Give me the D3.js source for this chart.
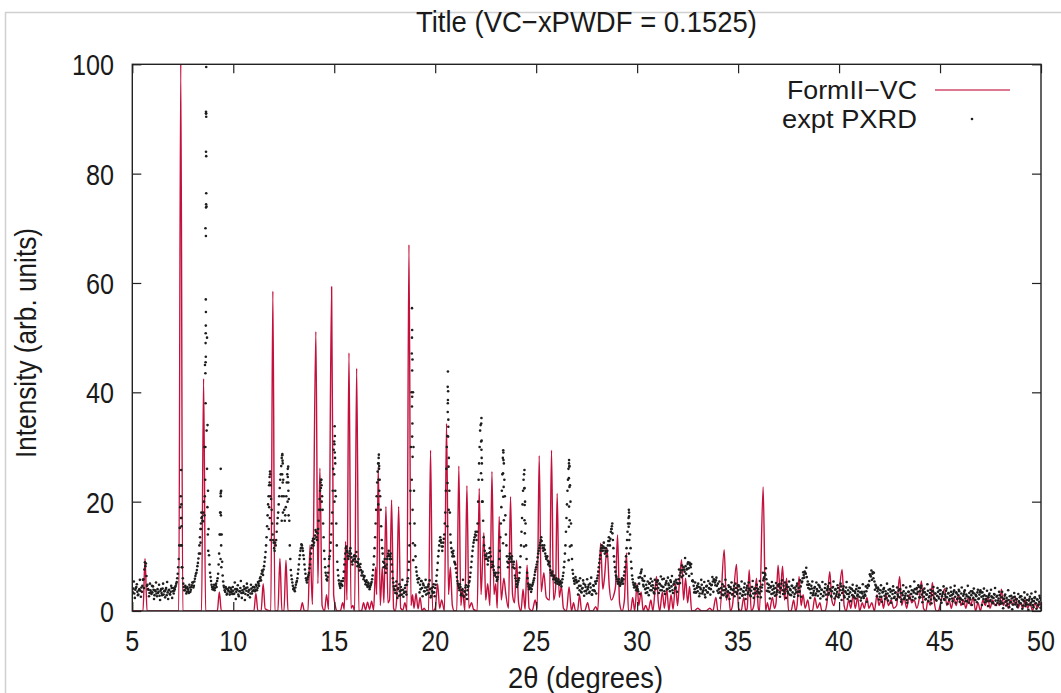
<!DOCTYPE html>
<html><head><meta charset="utf-8">
<script src="https://cdn.jsdelivr.net/npm/d3@7"></script>
<style>
body{margin:0;background:#fff}
svg{display:block}
text{font-family:"Liberation Sans",Arial,Helvetica,sans-serif;fill:#1a1a1a}
</style>
</head><body>
<svg id="c" width="1061" height="693"></svg>
<script>
// ---------- data ----------
const xTicks = [5,10,15,20,25,30,35,40,45,50];
const yTicks = [0,20,40,60,80,100];
const titleText = "Title (VC\u2212xPWDF = 0.1525)";
const xLabel = "2\u03b8 (degrees)";
const yLabel = "Intensity (arb. units)";
const seriesNames = ["FormII\u2212VC","expt PXRD"];

// simulated pattern FormII-VC: [2theta, intensity] vertices
const simPattern = [
[5.0,0],[5.53,0],[5.63,9.6],[5.73,0],
[7.30,0],[7.40,100],[7.50,0],
[8.43,0],[8.53,42.5],[8.63,0],
[9.21,0],[9.31,3.5],[9.41,0],
[11.02,0],[11.12,3.2],[11.22,0],
[11.38,0],[11.48,5.0],[11.58,0.4],
[11.86,0],[11.96,58.5],[12.06,0],
[12.21,0],[12.31,9.6],[12.41,0],
[12.51,0],[12.61,9.3],[12.71,0],
[13.32,0],[13.42,1.5],[13.52,0],
[13.70,0],[13.80,12.1],[13.92,1.2],
[14.09,51.1],[14.19,5.0],[14.29,26.1],[14.40,1.0],[14.52,0],[14.62,3.0],[14.72,0.3],
[14.87,59.3],[14.97,3.0],[15.05,1.0],[15.15,0],[15.30,0],[15.42,1.5],[15.50,0.3],
[15.56,12.7],[15.63,2.0],[15.73,47.2],[15.83,0.5],[15.92,1.0],[16.01,0],
[16.11,44.4],[16.22,0],[16.35,0],[16.45,1.5],[16.55,0.2],[16.65,1.6],[16.75,0.3],[16.85,1.8],[16.95,0.2],
[17.05,8.0],[17.10,3.0],[17.18,26.4],[17.28,1.0],[17.38,8.0],[17.46,1.5],
[17.56,19.1],[17.66,1.5],[17.74,2.0],[17.84,20.3],[17.94,0.5],[18.02,0],[18.09,2.0],
[18.19,19.1],[18.29,0.5],[18.40,0.2],[18.50,1.5],[18.60,0],
[18.70,67.0],[18.80,1.0],[18.88,3.0],[18.95,0.5],[19.05,3.2],[19.15,0.4],[19.25,2.5],[19.35,0],[19.45,0.5],[19.55,0],[19.67,0],
[19.77,29.4],[19.87,0],[20.00,0.5],[20.12,5.0],[20.22,0.5],[20.32,2.0],[20.46,0],
[20.56,34.3],[20.66,3.0],[20.75,8.0],[20.85,1.0],[20.95,0],[21.07,0],
[21.17,26.5],[21.27,1.0],[21.35,4.0],[21.47,0],
[21.57,22.9],[21.67,0.5],[21.80,1.5],[21.90,0.3],[22.08,0],
[22.18,22.4],[22.27,3.0],[22.41,14.3],[22.50,2.0],[22.60,5.0],[22.71,1.0],
[22.81,25.5],[22.91,3.0],[23.00,5.0],[23.07,0.5],
[23.17,17.3],[23.27,2.0],[23.40,6.0],[23.50,3.0],[23.63,0.5],
[23.73,20.9],[23.83,3.0],[23.93,1.5],[24.03,9.3],[24.13,1.5],[24.25,0],[24.35,4.0],[24.45,0.3],
[24.55,8.4],[24.65,0.5],[24.80,0],[24.95,2.0],[25.05,0.5],
[25.15,28.4],[25.25,3.5],[25.38,7.0],[25.50,2.5],[25.66,2.0],
[25.76,29.4],[25.86,2.0],[25.96,4.0],
[26.04,21.5],[26.14,2.5],[26.25,4.5],[26.35,0.5],[26.50,0],
[26.63,4.4],[26.75,0],[26.85,1.5],[26.95,0],[27.05,0],[27.15,3.0],[27.25,0],[27.40,0],[27.55,1.5],[27.65,0],[27.80,0],[27.95,0.8],[28.05,0],
[28.19,12.4],[28.30,4.0],[28.38,6.0],
[28.51,11.5],[28.62,4.5],[28.72,2.0],[28.85,3.0],[28.93,4.5],
[29.03,13.9],[29.13,1.5],[29.25,0],[29.37,2.0],
[29.47,10.6],[29.57,0],[29.68,0],[29.78,2.5],[29.88,0],[30.00,5.0],[30.08,1.0],[30.20,3.5],[30.30,0],[30.42,1.0],[30.55,0],[30.68,2.0],[30.78,0],
[30.96,6.3],[31.05,1.5],[31.12,0],[31.25,3.5],[31.35,0.5],[31.47,4.0],[31.57,0],[31.68,3.0],[31.78,0.3],[31.90,5.0],[32.00,1.0],[32.08,4.5],
[32.20,9.4],[32.30,2.0],[32.40,6.0],[32.50,1.5],[32.60,4.5],[32.70,0],[32.82,0],[33.00,0.5],[33.20,0],[33.40,0],[33.60,0.5],[33.75,0],[33.90,2.5],[34.00,0],[34.10,0],
[34.31,11.2],[34.42,2.0],[34.52,3.5],[34.62,0],[34.72,1.0],
[34.92,8.5],[35.02,0.5],[35.15,0],[35.28,2.5],[35.38,0],[35.45,0.5],
[35.55,7.5],[35.65,0],[35.78,1.0],
[35.91,6.0],[36.00,0.5],[36.06,0],
[36.24,22.7],[36.36,0],[36.45,1.5],[36.55,0],[36.70,2.5],[36.80,0.5],[36.88,1.5],
[36.98,8.4],[37.09,3.0],[37.20,8.2],[37.30,2.0],[37.40,6.0],[37.50,0],[37.62,0],[37.75,2.0],[37.85,0],[37.92,1.0],
[38.02,6.3],[38.12,1.0],[38.22,3.0],[38.32,0.5],[38.45,2.0],[38.55,0],[38.68,0],[38.80,2.5],[38.92,0.5],[39.05,1.5],[39.15,0],[39.30,0],[39.40,1.5],
[39.54,7.2],[39.64,2.0],[39.75,1.0],[39.85,3.0],[39.95,2.5],
[40.15,7.6],[40.25,1.0],[40.35,0],[40.48,2.0],[40.58,0.5],[40.70,3.0],[40.80,0.5],[40.92,2.5],[41.02,0],[41.15,1.5],[41.25,0.5],[41.38,2.5],[41.48,0.5],[41.62,1.5],[41.75,0],[41.88,3.0],[41.98,1.0],[42.10,2.5],[42.20,0.5],[42.32,3.0],[42.45,1.0],[42.58,2.0],[42.70,0.5],[42.85,1.0],
[43.00,6.3],[43.10,1.0],[43.22,2.5],[43.35,0.5],[43.48,3.0],[43.60,1.5],[43.72,2.0],[43.85,0.5],[43.98,2.5],
[44.08,5.5],[44.18,0.5],[44.30,0],[44.40,2.0],[44.52,1.0],
[44.62,5.2],[44.72,1.5],[44.82,0],[44.92,0],[45.00,1.0],
[45.23,4.1],[45.33,1.0],[45.45,2.0],[45.56,0.5],[45.68,2.5],[45.80,1.0],[45.92,3.0],[46.04,1.0],[46.16,2.0],[46.28,0.5],[46.40,2.5],[46.52,1.0],[46.64,2.5],[46.76,0],[46.88,1.5],[47.00,0],[47.12,2.0],[47.24,1.0],[47.36,2.5],[47.48,0.5],[47.60,2.0],[47.72,1.0],[47.85,1.5],[47.94,1.0],
[48.04,4.0],[48.14,1.0],[48.26,2.0],[48.38,0.5],[48.50,2.0],[48.62,1.0],[48.74,2.5],[48.86,0.5],[48.98,1.5],[49.10,0.5],[49.22,2.0],[49.34,0.5],[49.46,1.5],[49.58,0],[49.70,1.5],[49.82,0.5],[49.94,1.5],[50.0,1.0]
];

// experimental PXRD, read every 0.05 deg from 5.000 deg
const exptStart = 5.0, exptStep = 0.05;
const exptY = [
3.6,4.1,3.2,3.9,4.4,3.5,3.0,4.0,3.7,4.3,4.6,5.8,7.6,8.2,6.4,4.8,3.9,3.3,3.8,3.1,
3.4,3.9,2.9,3.6,3.2,4.0,3.5,2.8,3.7,3.3,4.1,3.0,3.6,3.9,2.9,3.4,3.8,3.1,3.5,4.2,
3.6,3.2,4.0,4.6,5.3,6.8,9.5,15.2,21.0,12.0,6.0,4.4,3.8,4.2,3.5,4.0,3.3,4.3,3.9,4.7,
5.2,4.6,5.9,6.8,7.5,8.8,10.5,13.5,16.0,17.2,16.4,20.0,45.0,91.0,50.0,22.0,10.2,7.0,5.5,4.4,
4.0,4.8,4.2,5.0,5.5,6.8,10.5,18.0,22.0,9.0,5.4,4.3,3.5,4.1,3.2,3.8,4.3,3.4,3.9,3.1,
3.7,3.2,4.0,3.5,3.9,3.0,3.6,4.2,3.3,3.8,3.4,4.0,3.1,3.7,4.3,3.5,3.9,3.2,4.1,3.6,
3.8,4.3,3.9,4.6,4.2,5.0,5.5,6.2,6.8,7.2,7.6,9.0,10.8,13.5,17.5,21.0,24.5,23.0,18.5,14.0,
12.5,11.0,12.0,14.5,17.0,19.5,22.5,25.0,28.0,27.0,21.0,16.5,19.0,23.5,26.0,20.5,12.0,7.5,5.8,4.6,
4.2,3.6,4.8,5.5,6.8,8.5,10.2,11.5,12.0,11.0,9.5,7.6,6.0,5.2,6.2,7.0,8.5,10.5,12.0,13.2,
12.5,13.8,14.5,13.0,15.0,18.5,22.0,24.0,21.0,16.0,11.0,8.0,6.5,5.6,7.0,9.5,11.0,14.0,18.0,26.0,
31.0,27.0,16.0,9.0,6.5,5.0,4.2,5.5,4.6,6.0,8.5,10.5,11.8,10.8,9.5,10.5,11.5,9.8,8.5,9.4,
10.2,9.0,10.8,8.2,9.5,7.4,8.6,6.5,7.2,5.8,6.4,4.9,5.6,4.4,5.0,4.0,4.7,5.3,6.5,8.5,
11.5,16.0,21.0,25.5,28.0,24.0,18.5,13.0,10.5,8.0,9.5,7.0,8.5,10.0,11.0,9.5,10.5,8.5,6.0,4.5,
3.8,4.6,3.2,4.0,2.8,3.6,4.4,3.0,3.9,3.3,4.2,3.5,4.8,6.0,9.0,16.0,30.0,50.0,40.0,22.0,
12.0,8.0,6.5,5.2,6.0,4.8,5.5,4.2,5.0,3.6,4.3,3.0,3.8,4.5,3.3,4.0,2.8,3.6,4.4,3.4,
4.2,5.5,7.5,10.0,12.0,13.5,12.5,11.0,12.5,14.0,18.0,26.0,32.0,35.0,22.0,14.0,11.5,10.0,11.0,9.0,
8.5,7.0,5.5,4.6,3.8,4.4,3.2,4.0,2.8,3.6,4.3,3.0,3.8,4.6,5.5,7.0,9.0,11.0,12.5,13.5,
14.5,13.0,16.0,24.0,30.0,34.0,28.0,20.0,13.5,11.0,9.5,10.5,8.5,9.8,11.5,10.0,8.0,9.0,7.5,6.5,
7.0,5.5,6.2,8.0,11.0,16.0,22.0,28.0,27.0,21.0,14.0,10.0,8.0,9.5,10.5,9.0,10.0,8.0,9.0,6.5,
5.5,4.4,5.2,6.0,8.0,12.0,17.0,22.0,25.0,20.0,12.0,7.0,5.0,4.0,4.8,3.5,4.6,5.2,6.0,7.2,
8.0,9.0,10.5,11.5,12.5,13.5,12.0,11.0,12.0,10.5,9.5,10.0,8.5,9.0,7.5,6.5,7.2,5.8,6.5,5.2,
6.0,5.0,5.8,4.8,5.5,4.5,5.8,7.0,9.0,12.0,17.0,22.0,26.0,26.5,20.0,12.0,7.5,6.0,5.0,6.2,
5.2,4.2,5.5,3.8,4.6,3.4,4.2,5.0,3.6,4.4,3.2,4.0,4.8,3.5,4.3,3.0,3.8,4.6,3.6,5.0,
5.5,6.5,8.0,9.5,11.0,12.0,11.0,12.5,10.5,11.5,10.0,12.0,13.5,12.0,14.5,15.5,13.0,10.0,8.0,6.5,
5.8,5.0,5.8,4.6,5.2,6.0,5.0,6.5,8.0,10.0,13.0,16.0,18.0,14.0,9.0,6.5,5.2,4.3,5.0,3.8,
4.5,3.6,5.0,6.2,7.2,6.0,4.8,5.5,4.0,4.8,3.4,4.2,5.0,3.8,4.6,5.4,4.2,3.2,4.0,4.8,
5.5,4.2,5.0,3.8,4.6,5.8,4.4,3.6,4.8,5.5,4.0,5.0,4.2,5.6,4.5,3.8,4.8,5.4,4.3,5.2,
5.0,5.8,6.5,7.0,6.2,7.5,8.0,7.2,8.2,7.6,8.6,7.8,8.8,8.0,6.8,5.6,4.6,4.0,3.4,4.2,
3.6,4.4,3.2,4.0,4.8,3.5,4.2,3.0,3.8,4.6,3.4,4.2,5.0,4.0,4.8,5.4,5.8,5.2,5.6,4.6,
5.0,4.0,3.4,4.2,3.0,3.8,4.5,3.2,4.0,2.8,3.6,4.4,3.3,4.0,3.0,3.8,4.6,3.5,4.2,3.1,
3.8,4.5,3.2,4.0,2.8,3.6,4.3,3.0,3.8,4.6,3.4,4.1,2.9,3.7,4.4,3.2,4.0,3.3,4.2,3.6,
4.0,3.2,4.4,3.6,4.8,5.6,6.2,6.6,5.8,5.0,4.2,3.5,4.3,3.1,3.9,4.6,3.4,4.2,3.0,3.8,
4.5,3.4,4.2,5.0,3.8,4.6,3.2,4.0,4.8,3.6,4.4,3.0,3.8,4.6,3.4,4.2,3.1,3.9,4.6,3.5,
4.2,3.6,4.5,5.2,6.0,6.6,7.2,6.8,6.2,5.4,4.8,4.0,3.3,4.1,2.9,3.7,4.4,3.2,4.0,2.8,
3.6,4.3,3.1,3.9,2.7,3.5,4.2,3.0,3.8,4.5,3.3,4.0,2.8,3.6,4.4,3.2,3.9,2.7,3.5,4.2,
3.0,3.8,4.5,3.3,4.0,2.8,3.6,4.3,3.1,3.8,2.6,3.4,4.1,2.9,3.7,2.5,3.3,4.0,2.8,3.6,
2.6,3.4,2.4,3.2,2.7,3.5,2.8,3.6,4.2,4.8,5.5,6.5,7.4,6.8,6.0,5.4,4.8,4.2,3.6,4.0,
3.2,3.8,2.6,3.4,4.0,2.8,3.6,2.4,3.2,3.9,2.7,3.5,2.3,3.1,3.8,2.6,3.4,2.2,3.0,3.7,
2.5,3.3,2.1,2.9,3.6,2.4,3.2,2.0,2.8,3.5,2.3,3.1,3.8,2.6,3.4,4.0,3.2,4.2,3.5,4.4,
3.6,4.2,3.0,3.8,2.6,3.4,2.2,3.0,3.7,2.5,3.3,2.1,2.9,3.6,2.4,3.2,2.0,2.8,3.5,2.3,
3.1,2.0,2.7,3.4,2.2,3.0,3.7,2.5,3.2,2.0,2.8,3.5,2.3,3.1,3.8,2.6,3.4,2.2,2.9,3.6,
2.4,3.2,2.0,2.8,3.5,2.3,3.0,1.8,2.6,3.3,2.1,2.9,3.6,2.4,3.2,2.0,2.7,3.4,2.2,3.0,
3.8,2.6,3.4,2.2,2.9,2.0,2.7,1.8,2.5,3.2,2.0,2.7,1.6,2.4,3.0,1.9,2.6,1.5,2.3,2.9,
1.8,2.5,1.4,2.2,2.8,1.7,2.4,1.3,2.0,2.7,1.6,2.3,1.2,1.9,2.6,1.5,2.2,1.1,1.8,2.5,
1.4,2.1,1.0,1.8,2.4,1.3,2.0,1.2,1.9,2.6,1.5,2.2,1.1,1.8,2.5,1.4,2.1,1.0,1.7,2.4,
2.0
];

// experimental PXRD, in-between readings every 0.05 deg from 5.025 deg
const expt2Start = 5.025, expt2Step = 0.05;
const exptY2 = [
3.3,5.4,2.4,4.2,4.9,2.9,3.8,5.7,2.6,3.5,5.7,4.2,8.9,8.7,4.6,4.0,2.7,5.0,3.4,4.6,
4.5,2.2,3.8,5.2,2.7,3.3,4.8,2.0,4.0,2.9,5.0,3.6,2.5,4.2,5.3,2.2,3.9,3.0,4.6,2.4,
4.2,3.7,4.4,5.0,6.0,8.0,12.0,19.0,17.0,8.0,5.0,3.8,4.6,3.2,4.4,3.6,4.8,3.5,4.4,5.2,
4.3,5.4,6.4,7.0,8.2,9.6,12.0,15.0,17.0,16.5,18.0,30.0,70.0,74.0,34.0,15.0,8.5,6.2,4.8,4.0,
4.4,3.8,4.7,4.4,6.0,8.5,14.0,21.5,14.0,6.5,4.6,3.8,4.4,3.0,4.0,3.6,3.0,4.2,3.5,4.4,
3.1,5.2,2.2,4.0,4.7,2.7,3.6,5.5,2.4,3.3,4.5,2.0,4.2,5.0,2.9,3.8,2.5,4.8,3.2,4.4,
4.4,3.6,4.8,3.8,5.3,4.6,6.0,5.6,7.4,6.6,8.2,9.8,12.0,15.5,19.5,23.0,25.0,20.5,16.0,13.0,
11.5,12.5,13.0,16.0,18.0,21.0,24.0,26.5,28.5,24.0,18.5,17.5,21.0,25.0,23.5,16.5,9.5,6.5,5.2,4.0,
3.9,4.3,5.2,6.0,7.6,9.5,11.0,12.2,11.5,10.2,8.5,6.8,5.6,5.8,6.6,7.8,9.5,11.5,12.8,12.0,
13.2,14.8,13.5,14.2,16.5,20.5,23.5,23.0,18.5,13.5,9.5,7.0,5.8,6.2,8.2,10.0,12.5,16.0,22.0,29.5,
29.0,21.0,12.0,7.5,5.6,4.6,5.0,4.8,5.5,7.2,9.5,11.5,11.0,10.0,10.0,11.0,10.5,9.0,9.2,10.0,
9.5,10.0,9.0,8.8,8.4,8.0,7.5,7.0,6.5,6.2,5.5,5.3,4.7,5.2,4.5,4.4,5.0,5.8,7.5,10.0,
13.5,18.5,23.5,27.0,26.5,21.0,15.5,11.5,9.0,8.8,8.2,7.8,9.5,10.5,10.2,10.0,9.5,7.2,5.2,4.0,
3.3,5.4,2.4,4.2,4.9,2.9,3.8,5.7,2.6,3.5,4.7,3.0,5.4,7.5,12.0,22.0,40.0,46.0,30.0,16.0,
10.0,7.2,5.8,5.9,3.4,4.0,5.5,2.7,4.7,3.6,5.7,4.3,3.2,4.9,5.6,2.5,4.2,3.3,4.9,2.7,
4.8,6.5,8.8,11.0,12.8,13.0,11.8,11.8,13.2,16.0,22.0,30.0,38.0,28.0,18.0,12.5,10.8,10.5,10.0,8.8,
7.8,6.2,5.0,4.2,4.9,2.9,3.8,5.7,2.6,3.5,4.7,2.2,4.4,5.2,6.2,8.0,10.0,11.8,13.0,14.0,
13.8,14.5,20.0,27.0,33.0,31.0,24.0,16.5,12.0,10.2,10.0,9.5,9.2,10.6,10.8,9.0,8.5,8.2,7.0,6.8,
6.2,5.8,7.0,9.5,13.5,19.0,25.0,29.0,24.0,17.5,12.0,9.0,8.8,10.0,9.8,9.5,9.0,8.5,7.8,6.0,
4.9,4.8,5.6,7.0,10.0,14.5,19.5,24.0,22.5,16.0,9.5,6.0,4.5,4.4,4.2,4.0,4.9,5.6,6.6,7.6,
8.5,9.8,11.0,12.0,13.0,12.8,11.5,11.5,11.2,10.0,9.8,9.2,8.8,8.2,7.0,6.8,6.5,6.2,5.8,5.6,
5.5,5.4,5.3,5.1,5.0,5.2,6.4,8.0,10.5,14.5,19.5,24.0,27.0,23.0,16.0,9.5,6.8,5.5,5.6,5.7,
5.3,3.0,4.6,6.0,3.5,4.1,5.6,2.8,4.8,3.7,5.8,4.4,3.3,5.0,6.1,3.0,4.7,3.8,5.4,3.2,
6.0,7.2,8.8,10.2,11.5,11.5,11.8,11.5,11.0,10.8,11.0,12.8,12.8,13.2,15.0,14.2,11.5,9.0,7.2,6.2,
5.4,5.4,5.2,4.9,5.6,5.5,5.8,7.2,9.0,11.5,14.5,17.0,16.0,11.5,7.8,5.8,4.8,4.6,4.4,4.2,
4.0,6.1,3.1,6.9,7.6,5.6,4.5,6.4,3.3,4.2,5.4,2.9,5.1,5.9,3.8,4.7,3.4,5.7,4.1,5.3,
5.6,3.3,4.9,6.3,3.8,4.4,5.9,3.1,5.1,4.0,6.1,4.7,3.6,5.3,6.4,3.3,5.0,4.1,5.7,3.5,
5.0,7.6,5.1,7.4,8.3,6.5,7.6,9.7,6.8,7.7,8.9,6.4,8.4,8.6,5.5,5.4,3.4,5.2,3.4,4.6,
5.0,2.7,4.3,5.7,3.2,3.8,5.3,2.5,4.5,3.4,5.5,4.1,3.0,4.7,6.2,3.5,5.6,4.7,6.1,3.7,
3.3,5.4,2.4,4.2,4.9,2.9,3.8,5.7,2.6,3.5,4.7,2.2,4.4,5.2,3.1,4.0,2.7,5.0,3.4,4.6,
4.7,2.4,4.0,5.4,2.9,3.5,5.0,2.2,4.2,3.1,5.2,3.8,2.7,4.4,5.5,2.4,4.1,3.2,4.8,2.6,
3.4,5.5,2.5,4.3,7.0,6.0,6.9,7.8,3.7,3.6,4.8,2.3,4.5,5.3,3.2,4.1,2.8,5.1,3.5,4.7,
4.9,2.6,4.2,5.6,3.1,3.7,5.2,2.4,4.4,3.3,5.4,4.0,2.9,4.6,5.7,2.6,4.3,3.4,5.0,2.8,
3.5,5.6,2.6,5.4,7.1,6.1,7.0,7.9,4.8,4.2,4.9,2.4,4.6,5.4,3.3,4.2,2.9,5.2,3.6,4.8,
4.6,2.3,3.9,5.3,2.8,3.4,4.9,2.1,4.1,3.0,5.1,3.7,2.6,4.3,5.4,2.3,4.0,3.1,4.7,2.5,
2.9,5.0,2.0,3.8,4.5,2.5,3.4,5.3,2.2,3.1,4.3,1.8,4.0,4.8,2.7,3.6,2.3,4.6,3.0,4.2,
4.2,1.9,3.5,4.9,2.4,3.0,4.5,1.7,4.7,4.6,6.7,6.3,5.7,7.1,7.0,3.9,4.6,2.7,4.3,2.1,
2.6,4.7,1.7,3.5,4.2,2.2,3.1,5.0,1.9,2.8,4.0,1.5,3.7,4.5,2.4,3.3,2.0,4.3,2.7,3.9,
4.0,1.7,3.3,4.7,2.2,2.8,4.3,1.5,3.5,2.4,4.5,3.1,2.0,3.7,5.4,2.3,4.0,3.1,4.7,2.5,
2.5,4.6,1.6,3.4,4.1,2.1,3.0,4.9,1.8,2.7,3.9,1.4,3.6,4.4,2.3,3.2,1.9,4.2,2.6,3.8,
3.8,1.5,3.1,4.5,2.0,2.6,4.1,1.3,3.3,2.2,4.3,2.9,1.8,3.5,4.6,1.5,3.2,2.3,3.9,1.7,
2.2,4.3,1.3,3.1,3.8,1.8,2.7,4.6,1.5,2.4,3.6,1.1,3.3,4.1,2.0,2.9,1.6,3.9,2.3,3.5,
3.4,1.1,2.7,4.1,1.6,2.2,3.7,0.9,2.9,1.8,3.9,2.5,1.4,3.1,4.2,1.1,2.8,1.9,3.5,1.3,
1.4,3.5,0.5,2.3,3.0,1.0,1.9,3.8,0.7,1.6,2.8,0.3,2.5,3.3,1.2,2.1,0.8,3.1,1.5,2.7,
2.7,0.4,2.0,3.4,0.9,1.5,3.0,0.2,2.2,1.1,3.2,1.8,0.7,2.4,3.5,0.4,2.1,1.2,2.8,0.6
];

// extra experimental points stacked on the sharp reflections: [2theta, intensity]
const exptPeakDots = [
[7.42,25.8],[7.43,19.5],[7.41,17.0],[7.44,15.5],[7.40,12.0],[7.45,8.0],
[8.66,99.5],[8.65,91.3],[8.66,90.4],[8.655,91.0],[8.65,84.0],[8.66,83.2],[8.66,76.4],[8.655,74.4],[8.65,73.8],
[8.645,68.6],[8.64,57.0],[8.645,54.7],[8.64,52.2],[8.635,50.8],[8.63,49.0],[8.64,46.5],[8.63,45.5],[8.62,43.5],
[8.63,38.0],[8.68,33.0],[8.62,30.0],[8.70,26.0],[8.61,24.0],[8.72,19.0],[8.59,21.0],[8.74,14.0],[8.57,17.5],[8.76,11.0],
[8.40,15.0],[8.42,18.0],[8.38,12.5],[8.36,10.5],
[9.38,26.0],[9.39,21.8],[9.38,21.0],[9.37,18.0],[9.39,17.5],[9.36,14.0],[9.40,12.0],[9.37,9.5],[9.41,8.0],
[11.82,25.5],[11.80,23.5],[11.83,21.0],[11.78,19.0],[11.81,17.0],[11.76,15.0],[11.84,13.0],
[12.43,28.7],[12.44,27.5],[12.42,25.0],[12.45,23.5],[12.41,21.0],[12.46,18.0],[12.40,16.5],
[12.72,26.4],[12.70,24.5],[12.73,22.0],[12.69,20.0],[12.74,17.5],
[14.36,24.0],[14.34,22.5],[14.38,20.0],[14.32,18.5],
[15.02,33.8],[15.03,32.0],[15.01,30.5],[15.04,28.0],[15.00,25.0],[15.05,22.0],[15.01,20.0],
[17.21,28.6],[17.20,27.0],[17.22,26.0],[17.19,24.0],[17.23,22.0],[17.18,19.5],
[18.85,55.4],[18.86,51.4],[18.84,47.1],[18.86,44.0],[18.86,39.2],[18.85,37.4],[18.87,34.3],[18.86,31.9],[18.88,28.2],
[18.84,24.0],[18.88,18.5],[18.90,12.4],[18.91,9.3],
[20.63,43.8],[20.62,41.0],[20.64,40.2],[20.63,38.6],[20.62,36.4],[20.65,33.7],[20.64,31.9],[20.66,26.4],[20.61,23.4],[20.67,18.5],[20.60,15.5],
[22.29,35.3],[22.28,34.3],[22.30,31.2],[22.29,29.5],[22.31,27.0],[22.27,25.2],[22.32,20.0],
[23.37,29.4],[23.38,27.6],[23.36,25.2],[23.39,22.7],[23.37,20.9],[23.40,16.6],[23.36,12.4],
[24.42,25.8],[24.41,22.4],[24.43,19.4],[24.42,16.6],[24.44,14.2],[24.40,11.8],
[26.63,27.6],[26.64,26.4],[26.62,24.3],[26.65,22.7],[26.63,19.1],[26.66,16.6],[26.62,15.4],[26.67,11.8],[26.61,9.3],
[28.77,16.0],[28.73,15.0],
[29.59,18.5],[29.60,17.3],[29.58,15.4],[29.61,13.0],[29.59,10.5]
];

// ---------- drawing ----------
const svg = d3.select("#c");
const W = 1061, H = 693;
const L = 132.3, R = 1041, T = 64.3, B = 611;
const x = d3.scaleLinear().domain([5,50]).range([L,R]);
const y = d3.scaleLinear().domain([0,100]).range([B,T]);

// outer light frame
svg.append("line").attr("x1",5).attr("x2",W).attr("y1",12.5).attr("y2",12.5).attr("stroke","#d0d0d0").attr("stroke-width",1.5);
svg.append("line").attr("x1",5.5).attr("x2",5.5).attr("y1",12).attr("y2",H).attr("stroke","#d0d0d0").attr("stroke-width",1.5);

svg.append("clipPath").attr("id","clip").append("rect")
  .attr("x",L).attr("y",T).attr("width",R-L).attr("height",B-T);

// simulated line (plotted first, as in the legend order)
const line = d3.line().x(d=>x(d[0])).y(d=>y(d[1])).curve(d3.curveMonotoneX);
svg.append("path").attr("clip-path","url(#clip)")
  .attr("d",line(simPattern)).attr("fill","none")
  .attr("stroke","#c3103c").attr("stroke-width",1.4).attr("stroke-linejoin","round");

// experimental dots on top
const exptPts = exptY.map((v,i)=>[exptStart + i*exptStep, v])
  .concat(exptY2.map((v,i)=>[expt2Start + i*expt2Step, v]))
  .concat(exptPeakDots);
const gPts = svg.append("g").attr("clip-path","url(#clip)");
gPts.selectAll("circle").data(exptPts).join("circle")
  .attr("cx",d=>x(d[0])).attr("cy",d=>y(d[1])).attr("r",1.3).attr("fill","#1e1e1e");

// axes (inward ticks, mirrored)
const tick = 9;
const axStyle = g => { g.selectAll(".domain").remove(); g.selectAll("line").attr("stroke","#222").attr("stroke-width",1.2); g.selectAll("text").remove(); };
svg.append("g").attr("transform",`translate(0,${B})`).call(d3.axisBottom(x).tickValues(xTicks).tickSize(-tick)).call(axStyle);
svg.append("g").attr("transform",`translate(0,${T})`).call(d3.axisTop(x).tickValues(xTicks).tickSize(-tick)).call(axStyle);
svg.append("g").attr("transform",`translate(${L},0)`).call(d3.axisLeft(y).tickValues(yTicks).tickSize(-tick)).call(axStyle);
svg.append("g").attr("transform",`translate(${R},0)`).call(d3.axisRight(y).tickValues(yTicks).tickSize(-tick)).call(axStyle);

// frame
svg.append("rect").attr("x",L).attr("y",T).attr("width",R-L).attr("height",B-T)
  .attr("fill","none").attr("stroke","#222").attr("stroke-width",1.4);

// tick labels: tall narrow type like reference
const SX = 0.84;
function label(txt, px, py, size, anchor){
  const g = svg.append("g").attr("transform",`translate(${px},${py}) scale(${SX},1)`);
  g.append("text").attr("text-anchor",anchor).attr("font-size",size).text(txt);
}
xTicks.forEach(v=>label(String(v), x(v), 651, 30, "middle"));
yTicks.forEach(v=>label(String(v), 114, y(v)+11, 30, "end"));

// fitted text (width matched to reference)
function fitted(txt, px, py, size, anchor, len, rot){
  svg.append("text")
    .attr("transform",`translate(${px},${py})` + (rot?` rotate(${rot})`:""))
    .attr("text-anchor",anchor).attr("font-size",size)
    .attr("textLength",len).attr("lengthAdjust","spacingAndGlyphs").text(txt);
}
fitted(titleText, 586.5, 32, 29, "middle", 341);
fitted(xLabel, 585.5, 688, 29, "middle", 155);
fitted(yLabel, 36, 343, 29, "middle", 230, -90);

// legend
fitted(seriesNames[0], 917, 99, 26, "end", 130);
fitted(seriesNames[1], 917, 128, 26, "end", 135);
svg.append("line").attr("x1",935).attr("x2",1010).attr("y1",90).attr("y2",90)
  .attr("stroke","#c3103c").attr("stroke-width",1.4).attr("opacity",0.75);
svg.append("circle").attr("cx",972).attr("cy",119).attr("r",1.3).attr("fill","#1e1e1e");
</script>
</body></html>
